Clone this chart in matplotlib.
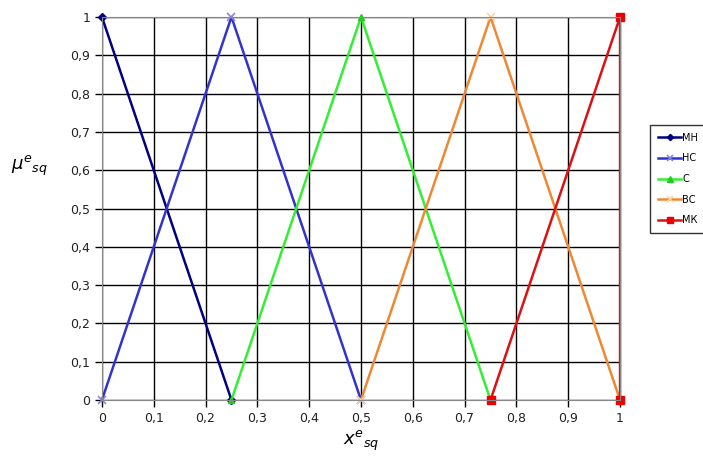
import matplotlib.pyplot as plt
import matplotlib.ticker as ticker

# membership functions (triangular terms)
mh_x = [0, 0.25]
mh_y = [1, 0]
hc_x = [0, 0.25, 0.5]
hc_y = [0, 1, 0]
c_x = [0.25, 0.5, 0.75]
c_y = [0, 1, 0]
bc_x = [0.5, 0.75, 1]
bc_y = [0, 1, 0]
mk_x = [0.75, 1, 1]
mk_y = [0, 1, 0]

names = ['МН', 'НС', 'С', 'ВС', 'МК']

fig = plt.figure(figsize=(7.03, 4.59), dpi=100)
ax = fig.add_axes([0.145, 0.1285, 0.737, 0.8345])

p1, = ax.plot(mh_x, mh_y, color='#000080', lw=1.8, marker='D', ms=4, mfc='#000080', mec='#000080', clip_on=False, label=names[0])
p2, = ax.plot(hc_x, hc_y, color='#3333cc', lw=1.8, marker='x', ms=6, mew=1.1, mec='#8080e0', clip_on=False, label=names[1])
p3, = ax.plot(c_x, c_y, color='#33ee33', lw=1.8, marker='^', ms=5, mfc='#22cc22', mec='#22cc22', clip_on=False, label=names[2])
p4, = ax.plot(bc_x, bc_y, color='#ee8833', lw=1.8, marker='x', ms=6, mew=1.1, mec='#ffd0a0', clip_on=False, label=names[3])
p5, = ax.plot(mk_x, mk_y, color='#dd1111', lw=1.8, marker='s', ms=6, mfc='#ee0000', mec='#ee0000', clip_on=False, label=names[4])

ax.set_xlim(0, 1)
ax.set_ylim(0, 1)
ax.xaxis.set_major_locator(ticker.MultipleLocator(0.1))
ax.yaxis.set_major_locator(ticker.MultipleLocator(0.1))
fmt = ticker.FuncFormatter(lambda v, p: ('%g' % round(v, 1)).replace('.', ','))
ax.xaxis.set_major_formatter(fmt)
ax.yaxis.set_major_formatter(fmt)
ax.grid(True, color='black', lw=1)
ax.set_axisbelow(True)
for s in ax.spines.values():
    s.set_color('#888888')
ax.tick_params(direction='out', length=5, width=1, labelsize=9, colors='black', labelcolor='#222222')

ax.set_xlabel(r'$x^{e}{}_{sq}$', fontsize=13)
ax.xaxis.set_label_coords(0.5, -0.075)
ax.set_ylabel(r'$\mu^{e}{}_{sq}$', fontsize=13, rotation=0)
ax.yaxis.set_label_coords(-0.14, 0.58)

leg = fig.legend(handles=[p1, p2, p3, p4, p5], loc='upper left', bbox_to_anchor=(0.925, 0.728),
                 fontsize=7, frameon=True, fancybox=False, edgecolor='black', handlelength=2.4,
                 labelspacing=1.1, borderpad=0.8, handletextpad=0.1, borderaxespad=0, markerscale=0.8)
leg.get_frame().set_linewidth(1)

plt.savefig('out.png', dpi=100)
